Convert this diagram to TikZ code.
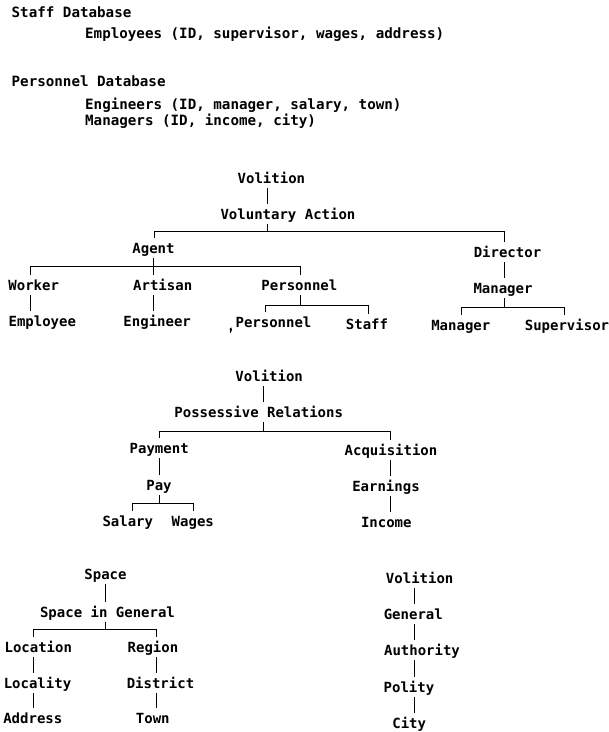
\documentclass[tikz,border=0pt]{standalone}
\usepackage{fontspec}
\newfontfamily\monofam{DejaVu Sans Mono Bold}
\newcommand{\termfont}{\monofam\fontsize{14pt}{16pt}\selectfont}
\newcommand{\listfont}{\monofam\fontsize{14.2pt}{16pt}\selectfont}
\tikzset{
  term/.style={font=\termfont, inner sep=0pt, text height=10pt, text depth=0pt,
               outer ysep=5pt, anchor=base},
  plain/.style={font=\listfont, inner sep=0pt, anchor=base west},
  link/.style={line width=0.9pt, line cap=butt}
}
\begin{document}
\begin{tikzpicture}[x=1pt, y=-1pt]
\useasboundingbox[fill=white] (0,0) rectangle (609,732);

% schema listing
\node[plain] (sdb)  at (11.5,17)  {Staff Database};
\node[plain] (semp) at (85,38)    {Employees (ID, supervisor, wages, address)};
\node[plain] (pdb)  at (11.5,86)  {Personnel Database};
\node[plain] (peng) at (85,109)   {Engineers (ID, manager, salary, town)};
\node[plain] (pman) at (85,125)   {Managers (ID, income, city)};

% ---- hierarchy 1: Volition / Voluntary Action
\node[term] (vol1)  at (271.4,183) {Volition};
\node[term] (va)    at (288,219)   {Voluntary Action};
\node[term] (agent) at (153.5,253) {Agent};
\node[term] (dir)   at (507.5,257) {Director};
\node[term] (work)  at (33.7,290)  {Worker};
\node[term] (art)   at (162.7,290) {Artisan};
\node[term] (pers1) at (299.4,290) {Personnel};
\node[term] (man1)  at (503,293)   {Manager};
\node[term] (emp)   at (42.3,326)  {Employee};
\node[term] (eng)   at (157.2,326) {Engineer};
\node[term] (pers2) at (273.5,327) {Personnel};
\node[term] (staff) at (367,329)   {Staff};
\node[term] (man2)  at (460.8,330) {Manager};
\node[term] (sup)   at (567,330)   {Supervisor};

\coordinate (a1) at (267.3,231);
\coordinate (a1l) at (154,231);
\coordinate (a1r) at (504,231);
\coordinate (a2l) at (30.7,266.7);
\coordinate (a2r) at (300.7,266.7);
\coordinate (a3) at (300.7,305.3);
\coordinate (a3l) at (265.7,305.3);
\coordinate (a3r) at (368.3,305.3);
\coordinate (a4) at (504,307.3);
\coordinate (a4l) at (461,307.3);
\coordinate (a4r) at (564.3,307.3);
\coordinate (a5) at (153.3,0);

\draw[link] (vol1.south -| a1) -- (va.north -| a1);
\draw[link] (va.south -| a1) -- (a1);
\draw[link] (agent.north -| a1l) -- (a1l) -- (a1r) -- (dir.north -| a1r);
\draw[link] (agent.south -| a5) -- (art.north -| a5);
\draw[link] (art.south -| a5) -- (eng.north -| a5);
\draw[link] (work.north -| a2l) -- (a2l) -- (a2r) -- (pers1.north -| a2r);
\draw[link] (work.south -| a2l) -- (emp.north -| a2l);
\draw[link] (pers1.south -| a3) -- (a3);
\draw[link] (pers2.north -| a3l) -- (a3l) -- (a3r) -- (staff.north -| a3r);
\draw[link] (dir.south -| a4) -- (man1.north -| a4);
\draw[link] (man1.south -| a4) -- (a4);
\draw[link] (man2.north -| a4l) -- (a4l) -- (a4r) -- (sup.north -| a4r);

% small ink mark beside the lower Personnel
\fill (231.4,327.4) .. controls (232.6,328.8) and (231.8,330.8) .. (230.8,332.8)
      -- (229.8,332.4) .. controls (230.4,330.8) and (230.2,329.4) .. (229.6,328.6) -- cycle;

% ---- hierarchy 2: Volition / Possessive Relations
\node[term] (vol2) at (269.2,381) {Volition};
\node[term] (poss) at (258.7,417) {Possessive Relations};
\node[term] (paym) at (159.2,453) {Payment};
\node[term] (acq)  at (391,455)   {Acquisition};
\node[term] (pay)  at (159,490)   {Pay};
\node[term] (earn) at (386,491)   {Earnings};
\node[term] (sal)  at (127.8,526) {Salary};
\node[term] (wag)  at (192.8,526) {Wages};
\node[term] (inc)  at (386.3,527) {Income};

\coordinate (b1) at (263.3,431);
\coordinate (b1l) at (159,431);
\coordinate (b1r) at (390.7,431);
\coordinate (b2) at (159,503.3);
\coordinate (b2l) at (132.3,503.3);
\coordinate (b2r) at (193.3,503.3);
\coordinate (b3) at (390,0);

\draw[link] (vol2.south -| b1) -- (poss.north -| b1);
\draw[link] (poss.south -| b1) -- (b1);
\draw[link] (paym.north -| b1l) -- (b1l) -- (b1r) -- (acq.north -| b1r);
\draw[link] (paym.south -| b2) -- (pay.north -| b2);
\draw[link] (pay.south -| b2) -- (b2);
\draw[link] (sal.north -| b2l) -- (b2l) -- (b2r) -- (wag.north -| b2r);
\draw[link] (acq.south -| b3) -- (earn.north -| b3);
\draw[link] (earn.south -| b3) -- (inc.north -| b3);

% ---- hierarchy 3: Space
\node[term] (space) at (105.5,579) {Space};
\node[term] (sig)   at (107.5,617) {Space in General};
\node[term] (loc)   at (38.3,652)  {Location};
\node[term] (reg)   at (153,652)   {Region};
\node[term] (lcty)  at (37.5,688)  {Locality};
\node[term] (dist)  at (160.5,688) {District};
\node[term] (addr)  at (32.8,723)  {Address};
\node[term] (town)  at (152.8,723) {Town};

\coordinate (c1) at (105.3,629);
\coordinate (c1l) at (33.3,629);
\coordinate (c1r) at (156.7,629);

\draw[link] (space.south -| c1) -- (sig.north -| c1);
\draw[link] (sig.south -| c1) -- (c1);
\draw[link] (loc.north -| c1l) -- (c1l) -- (c1r) -- (reg.north -| c1r);
\draw[link] (loc.south -| c1l) -- (lcty.north -| c1l);
\draw[link] (lcty.south -| c1l) -- (addr.north -| c1l);
\draw[link] (reg.south -| c1r) -- (dist.north -| c1r);
\draw[link] (dist.south -| c1r) -- (town.north -| c1r);

% ---- hierarchy 4: Volition / City
\node[term] (vol3) at (419.7,583) {Volition};
\node[term] (gen)  at (413.3,619) {General};
\node[term] (auth) at (422,655)   {Authority};
\node[term] (pol)  at (409,692)   {Polity};
\node[term] (city) at (409.2,728) {City};

\coordinate (d1) at (414.3,0);
\draw[link] (vol3.south -| d1) -- (gen.north -| d1);
\draw[link] (gen.south -| d1) -- (auth.north -| d1);
\draw[link] (auth.south -| d1) -- (pol.north -| d1);
\draw[link] (pol.south -| d1) -- (city.north -| d1);
\end{tikzpicture}
\end{document}
